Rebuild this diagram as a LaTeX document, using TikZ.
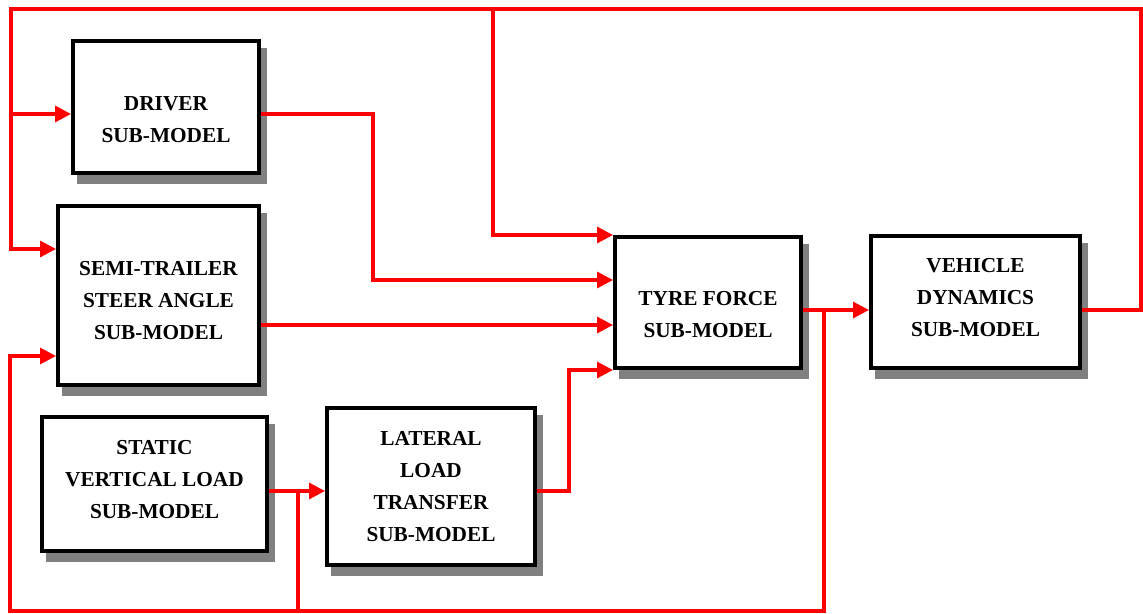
\documentclass[tikz,border=0pt]{standalone}
\usepackage{fontspec}
\setmainfont{Liberation Serif}
\usetikzlibrary{arrows.meta,shadows}
\definecolor{wirered}{RGB}{255,0,0}
\definecolor{shade}{RGB}{128,128,128}
\begin{document}
\begin{tikzpicture}[x=1pt,y=-1pt,
  box/.style={draw=black,line width=4pt,fill=white,inner sep=0pt,
    drop shadow={shadow xshift=5.5pt,shadow yshift=-8.5pt,fill=shade,draw=shade,line width=4pt,opacity=1}},
  txt/.style={font=\bfseries\fontsize{21.3}{32}\selectfont,align=center,text=black},
  wire/.style={draw=wirered,line width=3.2pt},
  arr/.style={wire,-{Triangle[length=16pt,width=16pt]}}]
\useasboundingbox (0,0) rectangle (1143,613);

% blocks
\node[box,minimum width=186pt,minimum height=132pt,
  label={[txt,yshift=-12.5pt]center:DRIVER\\SUB-MODEL}] (driver) at (166,107) {};
\node[box,minimum width=201pt,minimum height=179pt,
  label={[txt,yshift=-5.5pt]center:SEMI-TRAILER\\STEER ANGLE\\SUB-MODEL}] (semi) at (158.5,295.5) {};
\node[box,minimum width=225pt,minimum height=134pt,
  label={[txt,yshift=4.5pt]center:STATIC\\VERTICAL LOAD\\SUB-MODEL}] (static) at (154.5,484) {};
\node[box,minimum width=208pt,minimum height=157pt,
  label={[txt]center:LATERAL\\LOAD\\TRANSFER\\SUB-MODEL}] (lateral) at (431,486.5) {};
\node[box,minimum width=186pt,minimum height=131pt,
  label={[txt,yshift=-12.5pt]center:TYRE FORCE\\SUB-MODEL}] (tyre) at (708,302.5) {};
\node[box,minimum width=209pt,minimum height=132pt,
  label={[txt,yshift=4pt]center:VEHICLE\\DYNAMICS\\SUB-MODEL}] (vehicle) at (975.5,302) {};

% rows and junctions
\coordinate (r114) at (0,114);
\coordinate (r235) at (0,235);
\coordinate (r249) at (0,249);
\coordinate (r280) at (0,280);
\coordinate (r310) at (0,310);
\coordinate (r325) at (0,325);
\coordinate (r356) at (0,356);
\coordinate (r370) at (0,370);
\coordinate (r491) at (0,491);
\coordinate (tl) at (11,9);
\coordinate (tr) at (1141,9);
\coordinate (tm) at (493,9);
\coordinate (bl) at (10,611);
\coordinate (bm) at (298,611);
\coordinate (sj) at (298,491);
\coordinate (dj) at (373,280);
\coordinate (lj) at (569,370);
\coordinate (vj) at (824,310);

% connectors
\draw[arr] (vehicle.east |- r310) -| (tr) -- (tl) |- (semi.west |- r249);
\draw[arr] (tl |- r114) -- (driver.west |- r114);
\draw[arr] (tm) |- (tyre.west |- r235);
\draw[arr] (driver.east |- r114) -| (dj) -- (tyre.west |- r280);
\draw[arr] (semi.east |- r325) -- (tyre.west |- r325);
\draw[arr] (lateral.east |- r491) -| (lj) -- (tyre.west |- r370);
\draw[arr] (static.east |- r491) -- (lateral.west |- r491);
\draw[wire] (sj) -- (bm);
\draw[arr] (tyre.east |- r310) -- (vehicle.west |- r310);
\draw[arr] (vj) |- (bl) |- (semi.west |- r356);
\end{tikzpicture}
\end{document}
